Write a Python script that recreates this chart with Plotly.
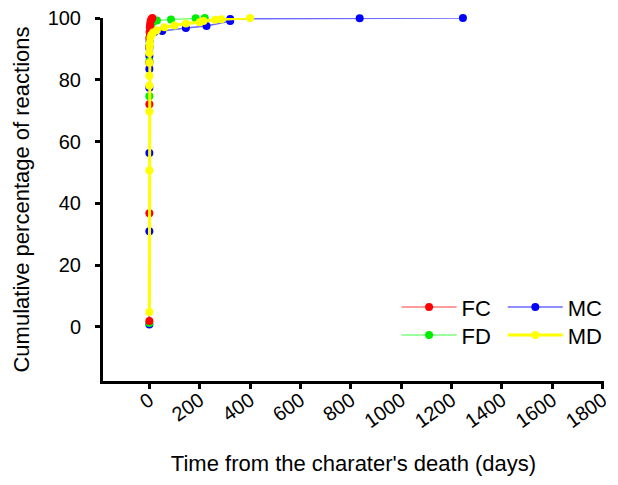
import plotly.graph_objects as go

# Cumulative percentage of reactions over time since the character's death
fc_days = [0, 0, 0, 0, 0, 0, 1, 2, 3, 5, 8, 12]
fc_pct = [1.9, 36.8, 72.1, 85.5, 90.5, 93.5, 95.5, 97.0, 98.0, 99.0, 99.6, 100.0]

fd_days = [0, 0, 0, 0, 1, 2, 4, 8, 15, 30, 86, 184, 220]
fd_pct = [1.3, 74.7, 86.0, 91.0, 93.5, 95.5, 97.0, 98.0, 98.8, 99.2, 99.5, 99.9, 100.0]

mc_days = [0, 0, 0, 0, 0, 0, 0, 1, 3, 6, 20, 51, 145, 227, 321, 321, 835, 1245]
mc_pct = [0.8, 31.0, 56.3, 77.4, 83.5, 87.7, 90.3, 92.5, 94.0, 95.0, 95.5, 95.8, 96.8,
          97.4, 99.0, 99.7, 99.9, 100.0]

md_days = [0, 0, 0, 0, 0, 0, 0, 1, 2, 4, 8, 15, 30, 60, 100, 145, 200, 215, 262, 286, 400]
md_pct = [4.8, 50.6, 69.7, 78.1, 81.3, 85.5, 88.7, 90.5, 92.0, 93.5, 94.5, 95.3, 96.0,
          97.0, 97.6, 98.2, 98.6, 99.0, 99.4, 99.6, 100.0]

x_ticks = [0, 200, 400, 600, 800, 1000, 1200, 1400, 1600, 1800]
y_ticks = [0, 20, 40, 60, 80, 100]

FONT = "Liberation Sans, Arial, sans-serif"

series = [
    # name, x, y, marker colour, line colour, line width, legend box
    ("MC", mc_days, mc_pct, "#0000ff", "rgba(90,90,255,0.9)", 1.5, "legend3"),
    ("FD", fd_days, fd_pct, "#00ee00", "rgba(110,255,110,0.9)", 1.5, "legend2"),
    ("FC", fc_days, fc_pct, "#ff0000", "rgba(255,110,110,0.9)", 1.5, "legend"),
    ("MD", md_days, md_pct, "#ffff00", "#ffff00", 3, "legend4"),
]

fig = go.Figure()
for name, xs, ys, mcol, lcol, lw, leg in series:
    fig.add_trace(go.Scatter(
        x=xs, y=ys, name=name, mode="lines+markers",
        line=dict(color=lcol, width=lw),
        marker=dict(color=mcol, size=8),
        cliponaxis=False, legend=leg, showlegend=True,
    ))

axis_common = dict(
    showline=True, linecolor="black", linewidth=3,
    ticks="outside", ticklen=5, tickwidth=3, tickcolor="black",
    showgrid=False, zeroline=False,
    tickfont=dict(family=FONT, size=20, color="black"),
)


def legend_box(x, y):
    # one legend box per series, laid out as a 2x2 grid
    return dict(
        x=x, y=y, xanchor="left", yanchor="middle",
        orientation="v", bgcolor="rgba(0,0,0,0)",
        font=dict(family=FONT, size=22), itemwidth=55,
    )


fig.update_layout(
    width=618, height=485,
    margin=dict(l=103, r=7, t=16, b=104),
    paper_bgcolor="white", plot_bgcolor="white",
    font=dict(family=FONT, color="black"),
    showlegend=True,
    xaxis=dict(
        range=[-184, 1805], tickvals=x_ticks, tickangle=-35, ticklabelstandoff=-8,
        title=dict(text="Time from the charater's death (days)",
                   font=dict(family=FONT, size=22), standoff=25),
        **axis_common,
    ),
    yaxis=dict(
        range=[-17.5, 100], tickvals=y_ticks, ticklabelstandoff=10,
        title=dict(text="Cumulative percentage of reactions",
                   font=dict(family=FONT, size=22), standoff=12),
        **axis_common,
    ),
    legend=legend_box(0.586, 0.203),
    legend2=legend_box(0.586, 0.126),
    legend3=legend_box(0.798, 0.203),
    legend4=legend_box(0.798, 0.126),
)

fig.write_html("out.html")
